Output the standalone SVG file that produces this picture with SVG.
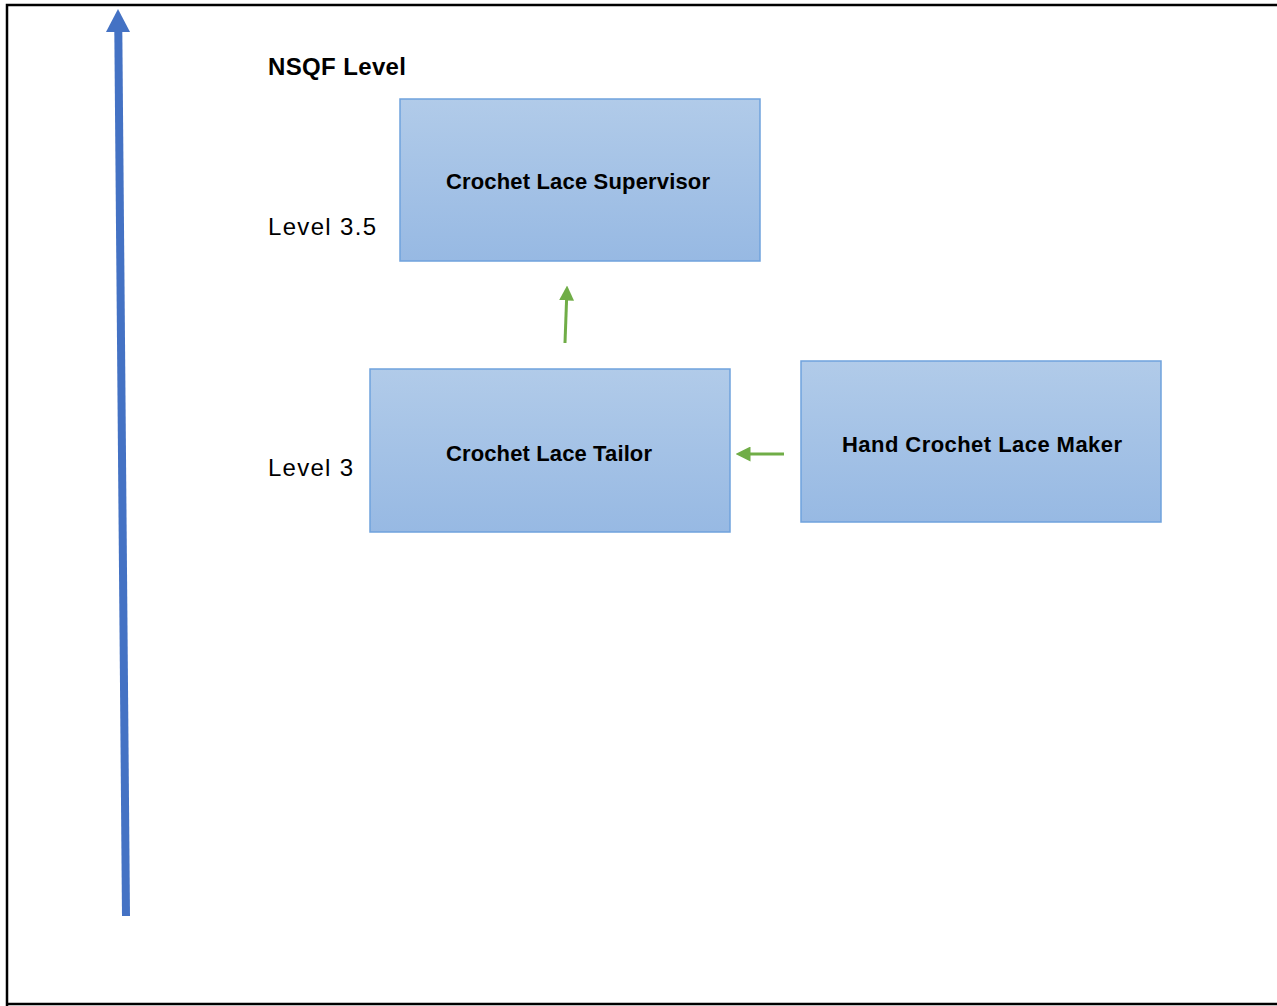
<svg xmlns="http://www.w3.org/2000/svg" width="1277" height="1006" viewBox="0 0 1277 1006">
<defs>
<linearGradient id="g" x1="0" y1="0" x2="0" y2="1">
<stop offset="0" stop-color="#B1CBE9"/>
<stop offset="1" stop-color="#97B9E3"/>
</linearGradient>
<marker id="ag" markerWidth="5" markerHeight="5" refX="0.5" refY="2.5" orient="auto" markerUnits="strokeWidth" viewBox="0 0 5 5">
<path d="M0,0 L5,2.5 L0,5 Z" fill="#70AD47"/>
</marker>
</defs>
<style>
.box{fill:url(#g);stroke:#6FA2DD;stroke-width:1.5}
.lbl{font-family:"Liberation Sans",Arial,sans-serif;font-weight:bold;font-size:22px;fill:#000}
.lvl{font-family:"Liberation Sans",Arial,sans-serif;font-size:24px;fill:#000}
.conn{stroke:#70AD47;stroke-width:3;fill:none}
</style>
<rect x="0" y="0" width="1277" height="1006" fill="#fff"/>
<path d="M7,1006 V5 H1277 M7,1004 H1277" fill="none" stroke="#000" stroke-width="2.5"/>
<g id="axis">
<line x1="126" y1="916" x2="118.3" y2="30" stroke="#4472C4" stroke-width="8"/>
<polygon points="118,9 130,32 106,32" fill="#4472C4"/>
</g>
<text x="268" y="75" class="lbl" style="font-size:24px" textLength="138">NSQF Level</text>
<text x="268" y="235" class="lvl" textLength="108">Level 3.5</text>
<text x="268" y="476" class="lvl" textLength="85">Level 3</text>
<g id="supervisor">
<rect x="400" y="99" width="360" height="162" class="box"/>
<text x="446" y="189" class="lbl" textLength="264">Crochet Lace Supervisor</text>
</g>
<g id="tailor">
<rect x="370" y="369" width="360" height="163" class="box"/>
<text x="446" y="461" class="lbl" textLength="206">Crochet Lace Tailor</text>
</g>
<g id="maker">
<rect x="801" y="361" width="360" height="161" class="box"/>
<text x="842" y="452" class="lbl" textLength="280">Hand Crochet Lace Maker</text>
</g>
<g id="connectors">
<line x1="565" y1="343" x2="566.6" y2="299" class="conn" marker-end="url(#ag)"/>
<line x1="784" y1="454" x2="749" y2="454" class="conn" marker-end="url(#ag)"/>
</g>
</svg>
